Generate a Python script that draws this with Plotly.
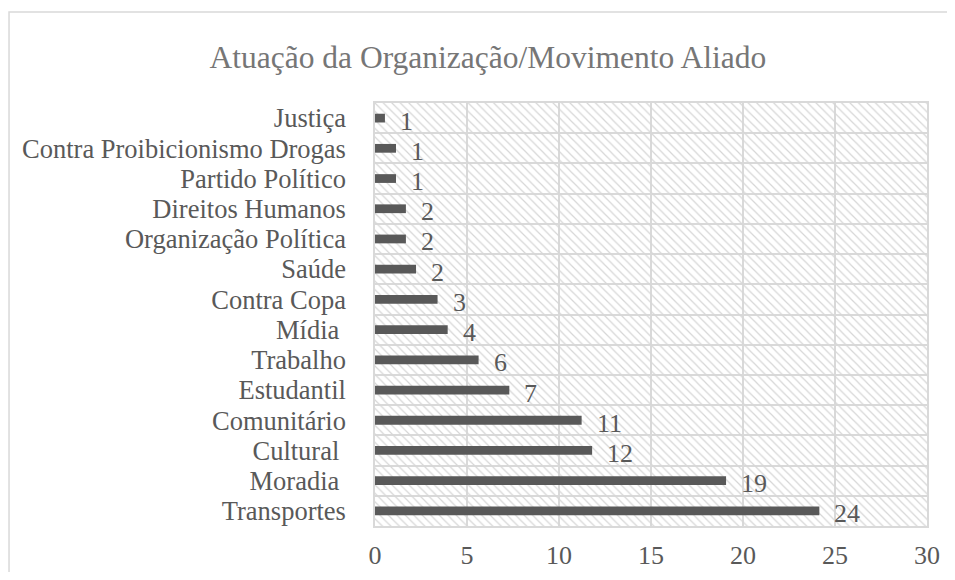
import plotly.graph_objects as go

categories = ["Justiça", "Contra Proibicionismo Drogas", "Partido Político", "Direitos Humanos",
              "Organização Política", "Saúde", "Contra Copa", "Mídia ", "Trabalho", "Estudantil",
              "Comunitário", "Cultural ", "Moradia ", "Transportes"]
bar_values = [0.54, 1.14, 1.14, 1.68, 1.68, 2.23, 3.4, 3.95, 5.63, 7.3, 11.23, 11.8, 19.08, 24.15]
label_values = [1, 1, 1, 2, 2, 2, 3, 4, 6, 7, 11, 12, 19, 24]
x_ticks = [0, 5, 10, 15, 20, 25, 30]
x_max = 30

FONT = "Liberation Serif, Times New Roman, serif"
TXT = "#595959"
GRID = "#d9d9d9"

fig = go.Figure()

# hatched plot-area background
fig.add_trace(go.Bar(
    y=categories, x=[x_max] * len(categories), orientation="h", width=1,
    marker=dict(color="rgba(0,0,0,0)", line=dict(width=0),
                pattern=dict(shape="\\", fgcolor="#d6d6d6", bgcolor="rgba(0,0,0,0)",
                             size=6, solidity=0.2, fillmode="replace")),
    hoverinfo="skip", showlegend=False))

fig.add_trace(go.Bar(
    y=categories, x=bar_values, orientation="h", width=0.29,
    marker=dict(color="#595959", line=dict(width=0)),
    showlegend=False))

for c, v, t in zip(categories, bar_values, label_values):
    fig.add_annotation(x=v, y=c, text=str(t), showarrow=False, xanchor="left",
                       xshift=13, yshift=-3, font=dict(family=FONT, size=26, color=TXT))

fig.add_shape(type="rect", xref="paper", yref="paper",
              x0=-0.663, y0=-0.3, x1=1.2, y1=1.215,
              line=dict(color=GRID, width=1.5), fillcolor="rgba(0,0,0,0)", layer="below")

fig.update_layout(
    width=939, height=564,
    margin=dict(l=367, r=20, t=95, b=46, autoexpand=False),
    paper_bgcolor="white", plot_bgcolor="white",
    barmode="overlay",
    title=dict(text="Atuação da Organização/Movimento Aliado", x=0.511, xanchor="center",
               y=0.913, yanchor="middle", font=dict(family=FONT, size=31.5, color="#767676")),
    font=dict(family=FONT, color=TXT),
    xaxis=dict(range=[0, x_max], tickmode="array", tickvals=x_ticks, showgrid=True,
               gridcolor=GRID, gridwidth=1.5, automargin=False,
               zeroline=False, showline=True, mirror=True, linecolor=GRID, linewidth=1.5,
               tickfont=dict(family=FONT, size=26, color=TXT), ticklabelstandoff=5, fixedrange=True),
    yaxis=dict(type="category", range=[13.5, -0.5], tickmode="array", tickvals=categories,
               tickson="boundaries", showgrid=True, automargin=False,
               gridcolor=GRID, gridwidth=1.5, showline=True, mirror=True, linecolor=GRID, linewidth=1.5,
               ticks="", tickfont=dict(family=FONT, size=26.5, color=TXT), ticklabelstandoff=22,
               fixedrange=True),
)

fig.write_html("out.html")
